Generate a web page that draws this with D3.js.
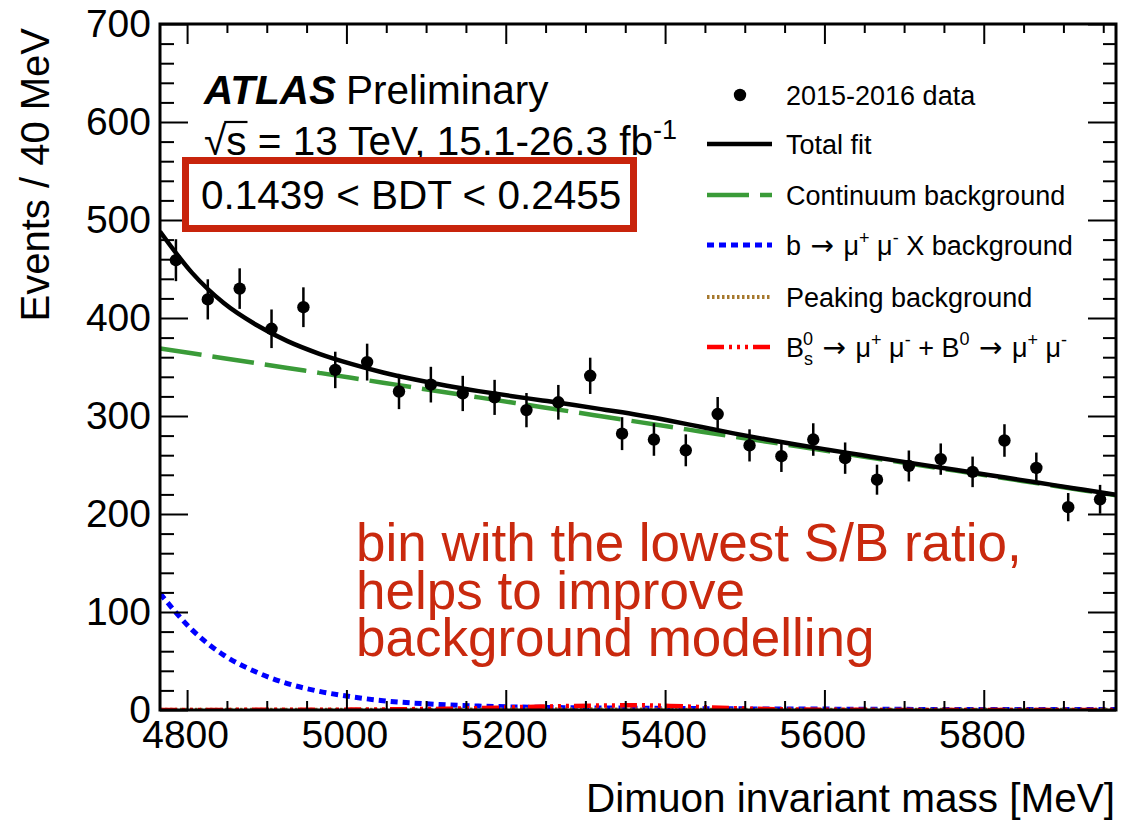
<!DOCTYPE html>
<html>
<head>
<meta charset="utf-8">
<script src="https://cdn.jsdelivr.net/npm/d3@7"></script>
<style>
  html, body { margin: 0; padding: 0; background: #fff; }
  svg { display: block; }
  text { font-family: "Liberation Sans", Arial, Helvetica, sans-serif; }
</style>
</head>
<body>
<svg id="chart" width="1121" height="822"></svg>
<script>
// Dimuon invariant mass spectrum, 40 MeV bins, one BDT interval

// Bin centres [MeV] and observed event counts with their statistical errors
const binCenters = [4786, 4826, 4866, 4906, 4946, 4986, 5026, 5066, 5106, 5146,
                    5186, 5226, 5266, 5306, 5346, 5386, 5426, 5466, 5506, 5546,
                    5586, 5626, 5666, 5706, 5746, 5786, 5826, 5866, 5906, 5946];
const counts = [459, 419, 430, 389, 411, 347, 355, 325, 332, 323,
                319, 306, 314, 341, 282, 276, 265, 302, 270, 259,
                276, 257, 235, 249, 256, 243, 275, 247, 207, 215];
const countErrors = [21.4, 20.5, 20.7, 19.7, 20.3, 18.6, 18.8, 18.0, 18.2, 18.0,
                     17.9, 17.5, 17.7, 18.5, 16.8, 16.6, 16.3, 17.4, 16.4, 16.1,
                     16.6, 16.0, 15.3, 15.8, 16.0, 15.6, 16.6, 15.7, 14.4, 14.7];

// Fit components sampled along the mass range [MeV]
const curveMass = [4766, 4806, 4846, 4886, 4926, 4966, 5006, 5046, 5086, 5126,
                   5166, 5206, 5246, 5286, 5326, 5366, 5406, 5446, 5486, 5526,
                   5566, 5606, 5646, 5686, 5726, 5766, 5806, 5846, 5886, 5926, 5966];
const continuumBkg = [369, 364, 359, 354, 349, 344, 339, 334, 329, 324,
                      319, 314, 309, 304, 299, 294, 289, 284, 279, 274,
                      269, 264, 259, 254, 249, 244, 239, 234, 229, 224, 219];
const bmumuXBkg = [119, 82, 56, 39, 27, 19, 13.5, 9.5, 7, 5.2,
                   4, 3.2, 2.7, 2.3, 2, 1.8, 1.6, 1.4, 1.2, 1.1,
                   1, 0.9, 0.8, 0.7, 0.6, 0.6, 0.5, 0.5, 0.4, 0.4, 0.4];
const peakingBkg = [0.2, 0.2, 0.2, 0.2, 0.2, 0.2, 0.3, 0.3, 0.3, 0.4,
                    0.5, 0.6, 0.7, 0.7, 0.6, 0.5, 0.4, 0.3, 0.3, 0.2,
                    0.2, 0.2, 0.2, 0.2, 0.2, 0.2, 0.2, 0.2, 0.2, 0.2, 0.2];
const signalBsB0 = [0.1, 0.1, 0.1, 0.2, 0.2, 0.3, 0.4, 0.6, 0.9, 1.3,
                    1.9, 2.7, 3.5, 4.2, 4.6, 4.8, 4.2, 3.0, 1.8, 1.0,
                    0.5, 0.3, 0.2, 0.1, 0.1, 0.1, 0.1, 0.1, 0.1, 0.1, 0.1];
// Total fit is the sum of all components
const totalFit = curveMass.map((_, i) =>
  continuumBkg[i] + bmumuXBkg[i] + peakingBkg[i] + signalBsB0[i]);

// Axis ranges and tick labels
const massDomain = [4766, 5966];
const eventsDomain = [0, 700];
const xMajorTicks = [4800, 5000, 5200, 5400, 5600, 5800];
const yMajorTicks = [0, 100, 200, 300, 400, 500, 600, 700];

const legendLabels = ["2015-2016 data", "Total fit", "Continuum background",
                      "b \u2192 \u03bc+ \u03bc- X background", "Peaking background",
                      "Bs0 \u2192 \u03bc+ \u03bc- + B0 \u2192 \u03bc+ \u03bc-"];
const noteLines = ["bin with the lowest S/B ratio,", "helps to improve", "background modelling"];

// ---------------------------------------------------------------------------
const svg = d3.select("#chart");
const plot = { left: 160, right: 1116, top: 24, bottom: 710 };

const x = d3.scaleLinear().domain(massDomain).range([plot.left, plot.right]);
const y = d3.scaleLinear().domain(eventsDomain).range([plot.bottom, plot.top]);

const xMinor = d3.range(4800, 5966, 50).filter(v => xMajorTicks.indexOf(v) < 0);
const yMinor = d3.range(0, 701, 20).filter(v => v % 100 !== 0);

const fontTick = 39;
const fontLabel = 40.5;

svg.append("clipPath").attr("id", "plotClip")
  .append("rect")
  .attr("x", plot.left).attr("y", plot.top)
  .attr("width", plot.right - plot.left).attr("height", plot.bottom - plot.top);

// Fit component curves
const curveLayer = svg.append("g").attr("clip-path", "url(#plotClip)");
const lineOf = arr => d3.line()
  .x((d, i) => x(curveMass[i]))
  .y(d => y(d))
  .curve(d3.curveMonotoneX)(arr);

const styles = {
  continuum: { color: "#3a9b38", width: 4.5, dash: "42,11" },
  bmumuX:    { color: "#0000ff", width: 5,   dash: "7,5" },
  peaking:   { color: "#a6782c", width: 4,   dash: "2.5,2.5" },
  signal:    { color: "#ff0000", width: 4.5, dash: "17,5,3,5,3,5,3,5" },
  total:     { color: "#000000", width: 4.5, dash: null }
};

function drawCurve(arr, st) {
  curveLayer.append("path")
    .attr("d", lineOf(arr))
    .attr("fill", "none")
    .attr("stroke", st.color)
    .attr("stroke-width", st.width)
    .attr("stroke-dasharray", st.dash);
}
drawCurve(continuumBkg, styles.continuum);
drawCurve(bmumuXBkg, styles.bmumuX);
drawCurve(peakingBkg, styles.peaking);
drawCurve(signalBsB0, styles.signal);
drawCurve(totalFit, styles.total);

// Data points with error bars
const dataLayer = svg.append("g");
dataLayer.selectAll("line.err").data(counts).join("line")
  .attr("class", "err")
  .attr("x1", (d, i) => x(binCenters[i])).attr("x2", (d, i) => x(binCenters[i]))
  .attr("y1", (d, i) => y(d - countErrors[i])).attr("y2", (d, i) => y(d + countErrors[i]))
  .attr("stroke", "#000").attr("stroke-width", 2.5);
dataLayer.selectAll("circle").data(counts).join("circle")
  .attr("cx", (d, i) => x(binCenters[i])).attr("cy", d => y(d))
  .attr("r", 6.2).attr("fill", "#000");

// Axes (ROOT style: ticks inward on all four sides)
function styleAxis(g) {
  g.select(".domain").remove();
  g.selectAll(".tick line").attr("stroke", "#000").attr("stroke-width", 2);
  g.selectAll(".tick text").attr("fill", "#000")
    .style("font-family", '"Liberation Sans", Arial, sans-serif')
    .style("font-size", fontTick + "px");
}
svg.append("g").attr("transform", `translate(0,${plot.bottom})`)
  .call(d3.axisBottom(x).tickValues(xMajorTicks).tickSizeInner(-20).tickSizeOuter(0)
        .tickPadding(8).tickFormat(d3.format("d")))
  .call(styleAxis)
  .call(g => g.selectAll(".tick text").attr("dy", "0.78em").attr("dx", "-2"));
svg.append("g").attr("transform", `translate(0,${plot.bottom})`)
  .call(d3.axisBottom(x).tickValues(xMinor).tickSizeInner(-9).tickSizeOuter(0).tickFormat(""))
  .call(styleAxis);
svg.append("g").attr("transform", `translate(0,${plot.top})`)
  .call(d3.axisTop(x).tickValues(xMajorTicks).tickSizeInner(-20).tickSizeOuter(0).tickFormat(""))
  .call(styleAxis);
svg.append("g").attr("transform", `translate(0,${plot.top})`)
  .call(d3.axisTop(x).tickValues(xMinor).tickSizeInner(-9).tickSizeOuter(0).tickFormat(""))
  .call(styleAxis);

svg.append("g").attr("transform", `translate(${plot.left},0)`)
  .call(d3.axisLeft(y).tickValues(yMajorTicks).tickSizeInner(-28).tickSizeOuter(0)
        .tickPadding(9).tickFormat(d3.format("d")))
  .call(styleAxis);
svg.append("g").attr("transform", `translate(${plot.left},0)`)
  .call(d3.axisLeft(y).tickValues(yMinor).tickSizeInner(-14).tickSizeOuter(0).tickFormat(""))
  .call(styleAxis);
svg.append("g").attr("transform", `translate(${plot.right},0)`)
  .call(d3.axisRight(y).tickValues(yMajorTicks).tickSizeInner(-28).tickSizeOuter(0).tickFormat(""))
  .call(styleAxis);
svg.append("g").attr("transform", `translate(${plot.right},0)`)
  .call(d3.axisRight(y).tickValues(yMinor).tickSizeInner(-13).tickSizeOuter(0).tickFormat(""))
  .call(styleAxis);

// Frame
svg.append("rect")
  .attr("x", plot.left).attr("y", plot.top)
  .attr("width", plot.right - plot.left).attr("height", plot.bottom - plot.top)
  .attr("fill", "none").attr("stroke", "#000").attr("stroke-width", 3);

// Axis titles
svg.append("text")
  .attr("x", 1115).attr("y", 812)
  .attr("text-anchor", "end")
  .style("font-size", "40.5px")
  .text("Dimuon invariant mass [MeV]");
svg.append("text")
  .attr("transform", "translate(49,28) rotate(-90)")
  .attr("text-anchor", "end")
  .style("font-size", "40px")
  .text("Events / 40 MeV");

// ATLAS label
const atlas = svg.append("text").attr("x", 204).attr("y", 104).style("font-size", fontLabel + "px");
atlas.append("tspan").style("font-weight", "bold").style("font-style", "italic").text("ATLAS");
atlas.append("tspan").attr("dx", 10).text("Preliminary");

const energy = svg.append("text").attr("x", 204).attr("y", 155).style("font-size", fontLabel + "px");
energy.append("tspan").text("\u221a");
energy.append("tspan").text("s");
energy.append("tspan").text(" = 13 TeV, 15.1-26.3 fb");
energy.append("tspan").attr("dy", -16).style("font-size", "27px").text("-1");
// bar of the square root over "s"
{
  const node = energy.node();
  const ext = node.getExtentOfChar(1);
  const rootExt = node.getExtentOfChar(0);
  svg.append("line")
    .attr("x1", rootExt.x + rootExt.width - 2).attr("x2", ext.x + ext.width + 1)
    .attr("y1", 122).attr("y2", 122)
    .attr("stroke", "#000").attr("stroke-width", 2.2);
}

// BDT interval box
svg.append("rect")
  .attr("x", 185.5).attr("y", 160.5).attr("width", 448).attr("height", 68)
  .attr("fill", "none").attr("stroke", "#c8240c").attr("stroke-width", 7);
svg.append("text").attr("x", 201).attr("y", 209).style("font-size", fontLabel + "px")
  .text("0.1439 < BDT < 0.2455");

// Legend
const legRows = [95, 144, 195, 245, 297, 347];
const leg = svg.append("g");
const lx0 = 707, lx1 = 772, ltx = 786, legFont = 27;
leg.append("circle").attr("cx", 740).attr("cy", legRows[0]).attr("r", 6.2).attr("fill", "#000");
[styles.total, styles.continuum, styles.bmumuX, styles.peaking, styles.signal].forEach((st, k) => {
  const yy = legRows[k + 1];
  leg.append("line")
    .attr("x1", lx0).attr("x2", lx1).attr("y1", yy).attr("y2", yy)
    .attr("stroke", st.color).attr("stroke-width", st.width)
    .attr("stroke-dasharray", st.dash);
});

function legText(row) {
  return leg.append("text").attr("x", ltx).attr("y", legRows[row] + 9.5)
    .style("font-size", legFont + "px");
}
legText(0).text(legendLabels[0]);
legText(1).text(legendLabels[1]);
legText(2).text(legendLabels[2]);
legText(4).text(legendLabels[4]);

// Each piece is placed with an absolute vertical offset from the row baseline
const supSize = "18px";
function legPieces(row, pieces) {
  const base = legRows[row] + 9.5;
  const t = leg.append("text").style("font-size", legFont + "px");
  pieces.forEach(p => {
    const ts = t.append("tspan").attr("y", base + (p.shift || 0)).text(p.s);
    if (p.small) ts.style("font-size", supSize);
    if (p.arrow) ts.style("font-family", '"DejaVu Sans", sans-serif').style("font-size", "28px");
    if (p.dx) ts.attr("dx", p.dx);
  });
  t.select("tspan").attr("x", ltx);
  return t;
}
const mu = "\u03bc", arrow = "\u2192";
legPieces(3, [
  { s: "b " }, { s: arrow, arrow: true, dx: 2 }, { s: " " + mu, dx: 2 },
  { s: "+", small: true, shift: -11 }, { s: " " + mu },
  { s: "-", small: true, shift: -11 }, { s: " X background" }
]);
legPieces(5, [
  { s: "B" }, { s: "s", small: true, shift: 8 }, { s: "0", small: true, shift: -12, dx: -10 },
  { s: " " }, { s: arrow, arrow: true, dx: 2 }, { s: " " + mu, dx: 2 },
  { s: "+", small: true, shift: -11 }, { s: " " + mu },
  { s: "-", small: true, shift: -11 }, { s: " + B" },
  { s: "0", small: true, shift: -12 }, { s: " " }, { s: arrow, arrow: true, dx: 2 },
  { s: " " + mu, dx: 2 }, { s: "+", small: true, shift: -11 }, { s: " " + mu },
  { s: "-", small: true, shift: -11 }
]);

// Annotation
const noteBase = [561, 609, 656];
noteLines.forEach((s, i) => {
  svg.append("text").attr("x", 356).attr("y", noteBase[i])
    .style("font-size", "53px").attr("fill", "#c9290e").text(s);
});
</script>
</body>
</html>
